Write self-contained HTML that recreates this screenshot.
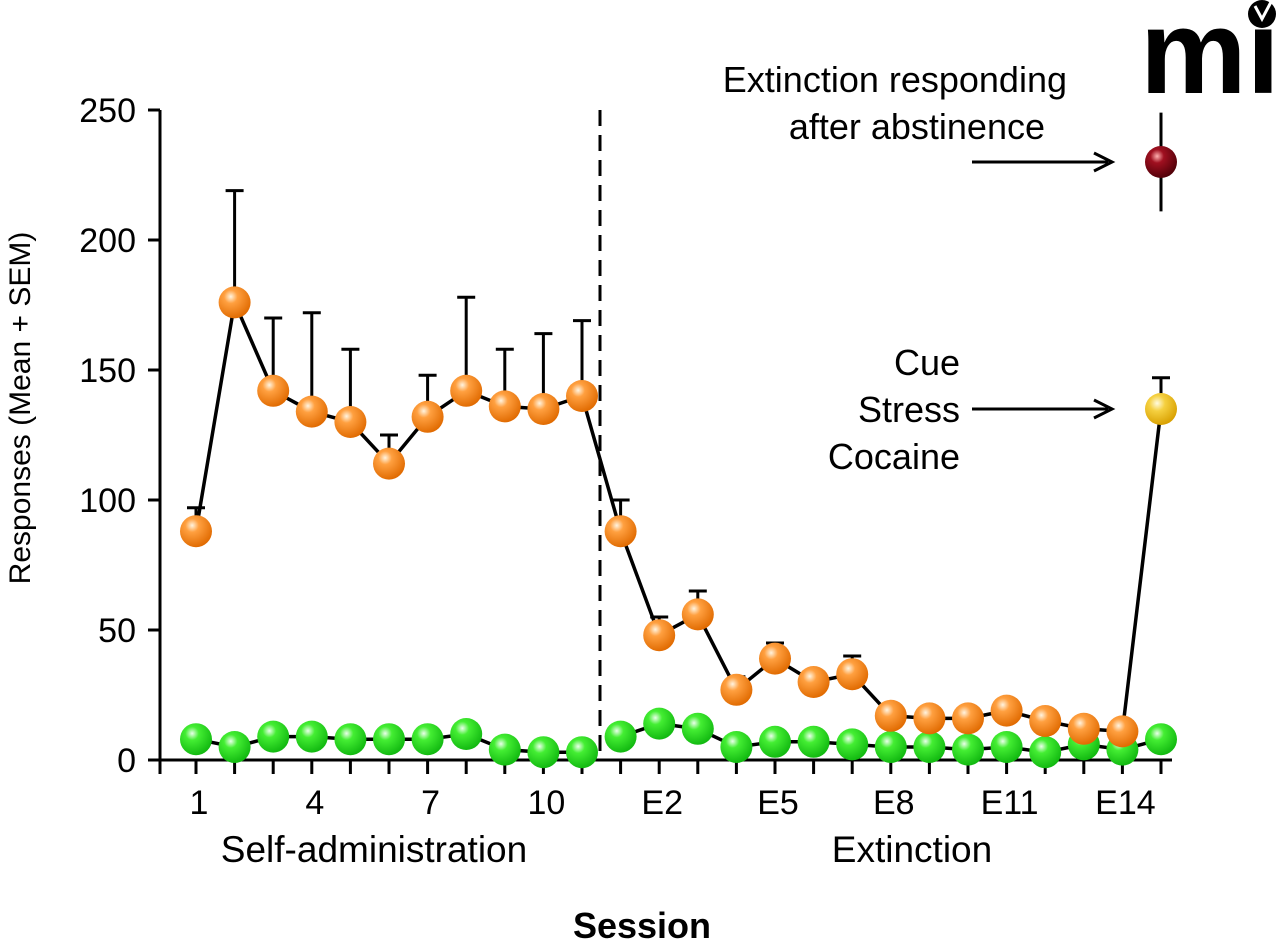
<!DOCTYPE html>
<html><head><meta charset="utf-8"><style>
html,body{margin:0;padding:0;background:#fff}
svg{display:block;font-family:"Liberation Sans",Arial,sans-serif}
</style></head><body>
<svg id="chart" width="1280" height="941" viewBox="0 0 1280 941">
<defs>
<radialGradient id="gOr" cx="0.38" cy="0.32" r="0.7"><stop offset="0" stop-color="#fff4e0"/><stop offset="0.3" stop-color="#ffa040"/><stop offset="1" stop-color="#e06a00"/></radialGradient>
<radialGradient id="gGr" cx="0.38" cy="0.32" r="0.7"><stop offset="0" stop-color="#eaffea"/><stop offset="0.3" stop-color="#44ee33"/><stop offset="1" stop-color="#11b810"/></radialGradient>
<radialGradient id="gYe" cx="0.38" cy="0.32" r="0.7"><stop offset="0" stop-color="#fffbe0"/><stop offset="0.35" stop-color="#f5d040"/><stop offset="1" stop-color="#d8a000"/></radialGradient>
<radialGradient id="gMa" cx="0.38" cy="0.32" r="0.7"><stop offset="0" stop-color="#ffb0b0"/><stop offset="0.3" stop-color="#a01020"/><stop offset="1" stop-color="#500008"/></radialGradient>
</defs>
<g id="axes"></g>
<g id="marks"></g>
<g>
<text x="1140" y="93" font-size="120" font-weight="600" font-family="Liberation Sans, sans-serif" textLength="140" lengthAdjust="spacingAndGlyphs">mi</text>
<circle cx="1262" cy="14" r="14" fill="#000"/>
<path d="M1255 6 L1262 19 L1271 2" stroke="#fff" stroke-width="3" fill="none"/>
</g>
</svg>
<script>
const categories = ["1","2","3","4","5","6","7","8","9","10","11","E1","E2","E3","E4","E5","E6","E7","E8","E9","E10","E11","E12","E13","E14","E15"];
const tickLabels = ["1","","","4","","","7","","","10","","","E2","","","E5","","","E8","","","E11","","","E14",""];
const activeMean = [88,176,142,134,130,114,132,142,136,135,140,88,48,56,27,39,30,33,17,16,16,19,15,12,11];
const activeErr = [97,219,170,172,158,125,148,178,158,164,169,100,55,65,32,45,null,40,null,null,null,null,null,null,null];
const inactiveMean = [8,5,9,9,8,8,8,10,4,3,3,9,14,12,5,7,7,6,5,5,4,5,3,6,4,8];
const reinstateMean = [135]; const reinstateErr = [147];
const abstinenceMean = [230]; const abstinenceSem = [19];
const yTicks = [0,50,100,150,200,250];

const NS="http://www.w3.org/2000/svg";
const X0=196, DX=38.6, Y0=760, K=2.6;
const xs=i=>X0+i*DX, ys=v=>Y0-v*K;
const axes=document.getElementById('axes'), marks=document.getElementById('marks');
function mk(tag,attrs,parent,txt){const e=document.createElementNS(NS,tag);for(const k in attrs)e.setAttribute(k,attrs[k]);if(txt!=null)e.textContent=txt;parent.appendChild(e);return e;}

let e;
e=mk('line',{x1:160,y1:ys(250),x2:160,y2:Y0+2,stroke:'#000','stroke-width':3},axes);


e=mk('line',{x1:150,y1:Y0,x2:1172,y2:Y0,stroke:'#000','stroke-width':3},axes);


yTicks.forEach(v=>{
  mk('line',{x1:148,y1:ys(v),x2:160,y2:ys(v),stroke:'#000','stroke-width':3},axes);
  e=mk('text',{x:136,y:ys(v)+12,'font-size':34,'text-anchor':'end'},axes,String(v));
  
  
});
mk('line',{x1:160,y1:Y0,x2:160,y2:Y0+14,stroke:'#000','stroke-width':3},axes);
categories.forEach((c,i)=>{
  mk('line',{x1:xs(i),y1:Y0,x2:xs(i),y2:Y0+14,stroke:'#000','stroke-width':3},axes);
  if(tickLabels[i]){e=mk('text',{x:xs(i)+3,y:814,'font-size':34,'text-anchor':'middle'},axes,tickLabels[i]);
  
  }
});
e=mk('text',{x:374,y:862,'font-size':37,'text-anchor':'middle'},axes,'Self-administration');


e=mk('text',{x:912,y:862,'font-size':37,'text-anchor':'middle'},axes,'Extinction');


e=mk('text',{x:642,y:938,'font-size':36,'font-weight':'bold','text-anchor':'middle'},axes,'Session');


e=mk('text',{x:0,y:0,'font-size':30,'text-anchor':'middle',transform:'translate(30 408) rotate(-90)'},axes,'Responses (Mean + SEM)');


e=mk('line',{x1:600,y1:110,x2:600,y2:Y0,stroke:'#000','stroke-width':3,'stroke-dasharray':'16 9'},axes);



[['Extinction responding',1067,92],['after abstinence',1045,139],['Cue',960,375],['Stress',960,422],['Cocaine',960,469]].forEach(a=>{
  e=mk('text',{x:a[1],y:a[2],'font-size':36,'text-anchor':'end'},axes,a[0]);
  
  
});
function arrow(x1,x2,y,name){
  const g=mk('g',{},axes);
  
  
  mk('line',{x1:x1,y1:y,x2:x2-4,y2:y,stroke:'#000','stroke-width':3},g);
  mk('path',{d:`M${x2-18} ${y-9} L${x2} ${y} L${x2-18} ${y+9}`,stroke:'#000','stroke-width':3,fill:'none'},g);
}
arrow(972,1112,ys(230),'abstinence-arrow');
arrow(972,1112,ys(135),'reinstatement-arrow');

function ebar(i,top,base){
  mk('line',{x1:xs(i),y1:ys(top),x2:xs(i),y2:ys(base),stroke:'#000','stroke-width':3},marks);
  mk('line',{x1:xs(i)-9,y1:ys(top),x2:xs(i)+9,y2:ys(top),stroke:'#000','stroke-width':3},marks);
}
activeErr.forEach((v,i)=>{ if(v!=null) ebar(i,v,activeMean[i]); });
ebar(25,reinstateErr[0],reinstateMean[0]);
mk('line',{x1:xs(25),y1:ys(abstinenceMean[0]+abstinenceSem[0]),x2:xs(25),y2:ys(abstinenceMean[0]-abstinenceSem[0]),stroke:'#000','stroke-width':3},marks);

function poly(vals,offset,name){
  const pts=vals.map((v,i)=>xs(i+offset)+','+ys(v)).join(' ');
  e=mk('polyline',{points:pts,fill:'none',stroke:'#000','stroke-width':3.5},marks);
  
  
}
poly(inactiveMean.slice(0,11),0,'inactive-line-sa');
poly(inactiveMean.slice(11),11,'inactive-line-ext');
poly(activeMean.slice(0,11),0,'active-line-sa');
poly(activeMean.slice(10).concat(reinstateMean),10,'active-line-ext');

function ball(i,v,fill,name){
  e=mk('circle',{cx:xs(i),cy:ys(v),r:16,fill:fill},marks);
  
  
}
inactiveMean.forEach((v,i)=>ball(i,v,'url(#gGr)','inactive-point'));
activeMean.forEach((v,i)=>ball(i,v,'url(#gOr)','active-point'));
ball(25,reinstateMean[0],'url(#gYe)','reinstatement-point');
ball(25,abstinenceMean[0],'url(#gMa)','abstinence-point');
</script>
</body></html>
